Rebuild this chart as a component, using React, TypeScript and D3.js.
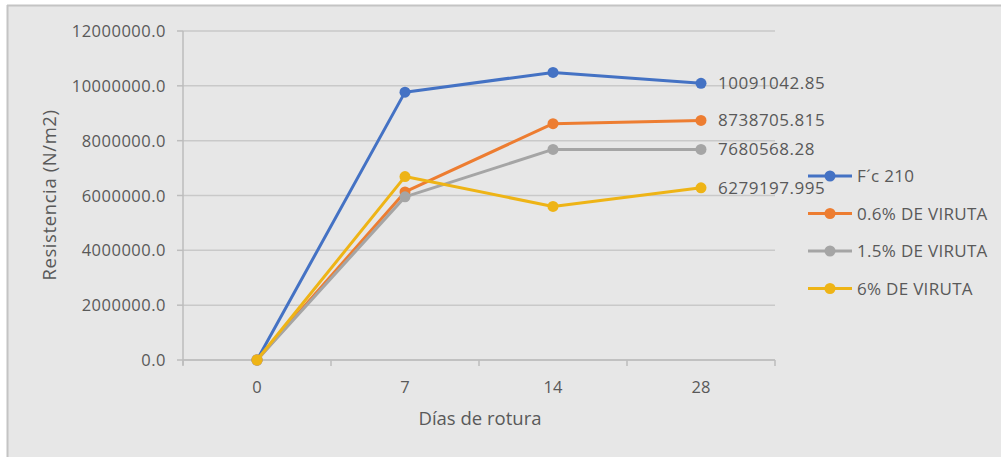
import React from "react";
import * as d3 from "d3";

const categories = ["0", "7", "14", "28"];
const seriesNames = ["F´c 210", "0.6% DE VIRUTA", "1.5% DE VIRUTA", "6% DE VIRUTA"];
const fc210 = [0, 9770000, 10490000, 10091042.85];
const viruta06 = [0, 6130000, 8620000, 8738705.815];
const viruta15 = [0, 5950000, 7680568.28, 7680568.28];
const viruta6 = [0, 6690000, 5600000, 6279197.995];
const lastLabels = ["10091042.85", "8738705.815", "7680568.28", "6279197.995"];
const yTicks = [0, 2000000, 4000000, 6000000, 8000000, 10000000, 12000000];
const colors = ["#4472C4", "#ED7D31", "#A5A5A5", "#EEB416"];

const W = 1001;
const H = 457;
const left = 183;
const right = 775;
const top = 31;
const bottom = 360;
const font = "'Open Sans', 'Liberation Sans', sans-serif";
const txt = "#595959";

export default function App() {
  const series = [fc210, viruta06, viruta15, viruta6];
  const x = d3.scaleBand<string>().domain(categories).range([left, right]);
  const y = d3.scaleLinear().domain([0, 12000000]).range([bottom, top]);
  const line = d3
    .line<number>()
    .x((_, i) => (x(categories[i]) as number) + x.bandwidth() / 2)
    .y((d) => y(d));
  const bounds = [...categories.map((c) => x(c) as number), right];

  return (
    <div style={{ position: "absolute", left: 0, top: 0 }}>
      <svg width={W} height={H} style={{ display: "block" }}>
        <rect x={0} y={0} width={W} height={H} fill="#ffffff" />
        <rect x={7} y={5} width={W - 7} height={H - 5} fill="#e7e7e7" />
        <line x1={7.5} y1={5} x2={7.5} y2={H} stroke="#c4c4c4" strokeWidth={2} />
        <line x1={7} y1={5.5} x2={W} y2={5.5} stroke="#c4c4c4" strokeWidth={2} />

        {yTicks.map((t) => (
          <g key={t}>
            <line x1={left} x2={right} y1={y(t)} y2={y(t)} stroke="#c9c9c9" strokeWidth={1.5} />
            <line x1={left - 6} x2={left} y1={y(t)} y2={y(t)} stroke="#bdbdbd" strokeWidth={1.5} />
            <text
              x={left - 17}
              y={y(t) + 6}
              textAnchor="end"
              fontFamily={font}
              fontSize={16.5}
              letterSpacing={0.5}
              fill={txt}
            >
              {(t).toFixed(1)}
            </text>
          </g>
        ))}
        <line x1={left} x2={left} y1={top} y2={bottom + 5} stroke="#bdbdbd" strokeWidth={1.5} />
        <line x1={left} x2={right} y1={bottom} y2={bottom} stroke="#bdbdbd" strokeWidth={1.5} />
        {bounds.map((b, i) => (
          <line key={i} x1={b} x2={b} y1={bottom} y2={bottom + 6} stroke="#bdbdbd" strokeWidth={1.5} />
        ))}
        {categories.map((c) => (
          <text
            key={c}
            x={(x(c) as number) + x.bandwidth() / 2}
            y={393}
            textAnchor="middle"
            fontFamily={font}
            fontSize={16.5}
            fill={txt}
          >
            {c}
          </text>
        ))}
        <text x={480} y={425} textAnchor="middle" fontFamily={font} fontSize={18.5} fill={txt}>
          Días de rotura
        </text>
        <text
          transform="translate(56,195) rotate(-90)"
          textAnchor="middle"
          fontFamily={font}
          fontSize={18.5}
          letterSpacing={0.6}
          fill={txt}
        >
          Resistencia (N/m2)
        </text>

        {series.map((s, k) => (
          <g key={k}>
            <path d={line(s) || ""} fill="none" stroke={colors[k]} strokeWidth={3} strokeLinejoin="round" />
            {s.map((v, i) => (
              <circle
                key={i}
                cx={(x(categories[i]) as number) + x.bandwidth() / 2}
                cy={y(v)}
                r={5.5}
                fill={colors[k]}
              />
            ))}
          </g>
        ))}
        {series.map((s, k) => (
          <text
            key={"l" + k}
            x={(x(categories[3]) as number) + x.bandwidth() / 2 + 17}
            y={y(s[3]) + 6}
            fontFamily={font}
            fontSize={17}
            letterSpacing={0.5}
            fill={txt}
          >
            {lastLabels[k]}
          </text>
        ))}

        {seriesNames.map((n, k) => {
          const ly = 176 + k * 37.5;
          return (
            <g key={n}>
              <line x1={808} x2={852} y1={ly} y2={ly} stroke={colors[k]} strokeWidth={3} />
              <circle cx={830} cy={ly} r={5.5} fill={colors[k]} />
              <text x={857} y={ly + 6} fontFamily={font} fontSize={17} letterSpacing={0.3} fill={txt}>
                {n}
              </text>
            </g>
          );
        })}
      </svg>
    </div>
  );
}
